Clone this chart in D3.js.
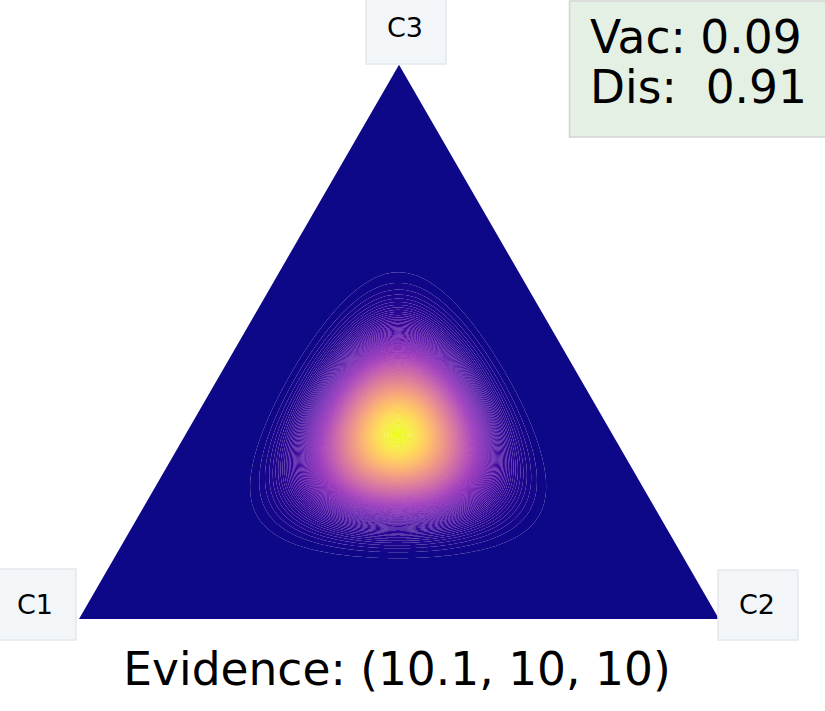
<!DOCTYPE html>
<html>
<head>
<meta charset="utf-8">
<script src="https://cdn.jsdelivr.net/npm/d3@7"></script>
<style>
  body { margin: 0; background: #fff; }
  svg { display: block; font-family: "DejaVu Sans", sans-serif; }
</style>
</head>
<body>
<svg id="chart"></svg>
<script>
// data
const classes = ['C1', 'C2', 'C3'];
const evidence = [10.1, 10, 10];
const nLevels = 200;

const width = 825, height = 711;
const svg = d3.select('#chart').attr('width', width).attr('height', height);

// dirichlet params from evidence
const alpha = evidence.map(e => e + 1);
const S = d3.sum(alpha);
const vac = classes.length / S;
const dis = 1 - vac;

// ternary plane: C1 (0,0), C2 (1,0), C3 (0.5, h3)
const h3 = Math.sqrt(3) / 2;
const x = d3.scaleLinear().domain([0, 1]).range([79, 719]);
const y = d3.scaleLinear().domain([0, h3]).range([619, 619 - 640 * h3]);
const corners = [[0, 0], [1, 0], [0.5, h3]];

// density grid
const nx = 321;
const step = 1 / (nx - 1);
const ny = Math.floor(h3 / step) + 1;
const mode = alpha.map(a => (a - 1) / (S - alpha.length));
const logMax = d3.sum(alpha, (a, i) => (a - 1) * Math.log(mode[i]));
const values = new Float64Array(nx * ny);
for (let j = 0; j < ny; j++) {
    const l3 = (j * step) / h3;
    for (let i = 0; i < nx; i++) {
        const l2 = i * step - l3 / 2;
        const l1 = 1 - l2 - l3;
        const bc = [l1, l2, l3];
        if (l1 <= 0 || l2 <= 0 || l3 <= 0) { values[j * nx + i] = 0; continue; }
        const lp = d3.sum(alpha, (a, k) => (a - 1) * Math.log(bc[k]));
        values[j * nx + i] = Math.exp(lp - logMax);
    }
}

const levels = d3.range(1, nLevels).map(k => k / nLevels);
const contours = d3.contours().size([nx, ny]).thresholds(levels)(values);

const toPix = d3.geoTransform({
    point: function(px, py) {
        this.stream.point(x((px - 0.5) * step), y((py - 0.5) * step));
    }
});
const path = d3.geoPath(toPix);
const color = d3.scaleSequential(d3.interpolatePlasma).domain([0, nLevels]);

const triPath = 'M' + corners.map(c => [x(c[0]), y(c[1])].join(',')).join('L') + 'Z';

// filled bands: each ring = level k minus level k+1, band 0 = triangle minus level 1
const bands = [{ d: triPath + (path(contours[0]) || ''), k: -1 }];
contours.forEach((c, k) => {
    const inner = k < contours.length - 1 ? (path(contours[k + 1]) || '') : '';
    bands.push({ d: (path(c) || '') + inner, k: k });
});

svg.append('g').selectAll('path')
    .data(bands)
    .join('path')
    .attr('d', d => d.d)
    .attr('fill-rule', 'evenodd')
    .attr('fill', d => color(d.k + 1.5))
    .attr('stroke', 'none');

// corner labels
const labelPos = [
    { box: [-2, 569, 78, 71], tx: 35, ty: 614 },
    { box: [718, 570, 80, 70], tx: 757, ty: 614 },
    { box: [366, -7, 80, 71], tx: 405, ty: 37 }
];
const lab = svg.append('g').selectAll('g').data(classes).join('g');
lab.append('rect')
    .attr('x', (d, i) => labelPos[i].box[0])
    .attr('y', (d, i) => labelPos[i].box[1])
    .attr('width', (d, i) => labelPos[i].box[2])
    .attr('height', (d, i) => labelPos[i].box[3])
    .attr('fill', '#f3f6f9')
    .attr('stroke', '#e3e8ed')
    .attr('stroke-width', 1.5);
lab.append('text')
    .attr('x', (d, i) => labelPos[i].tx)
    .attr('y', (d, i) => labelPos[i].ty)
    .attr('text-anchor', 'middle')
    .style('font-size', '27px')
    .text(d => d);

// uncertainty box
svg.append('rect')
    .attr('x', 569.5).attr('y', 1)
    .attr('width', 300).attr('height', 136)
    .attr('fill', '#e5f0e5')
    .attr('stroke', '#d3d3d3')
    .attr('stroke-width', 1.5);
const info = svg.append('text')
    .style('font-size', '45.5px')
    .style('white-space', 'pre');
info.append('tspan').attr('x', 590).attr('y', 53).text('Vac: ' + vac.toFixed(2));
info.append('tspan').attr('x', 590).attr('y', 103).text('Dis:  ' + dis.toFixed(2));

// caption below
svg.append('text')
    .attr('x', 397).attr('y', 685)
    .attr('text-anchor', 'middle')
    .style('font-size', '45.5px')
    .text('Evidence: (' + evidence.join(', ') + ')');
</script>
</body>
</html>
